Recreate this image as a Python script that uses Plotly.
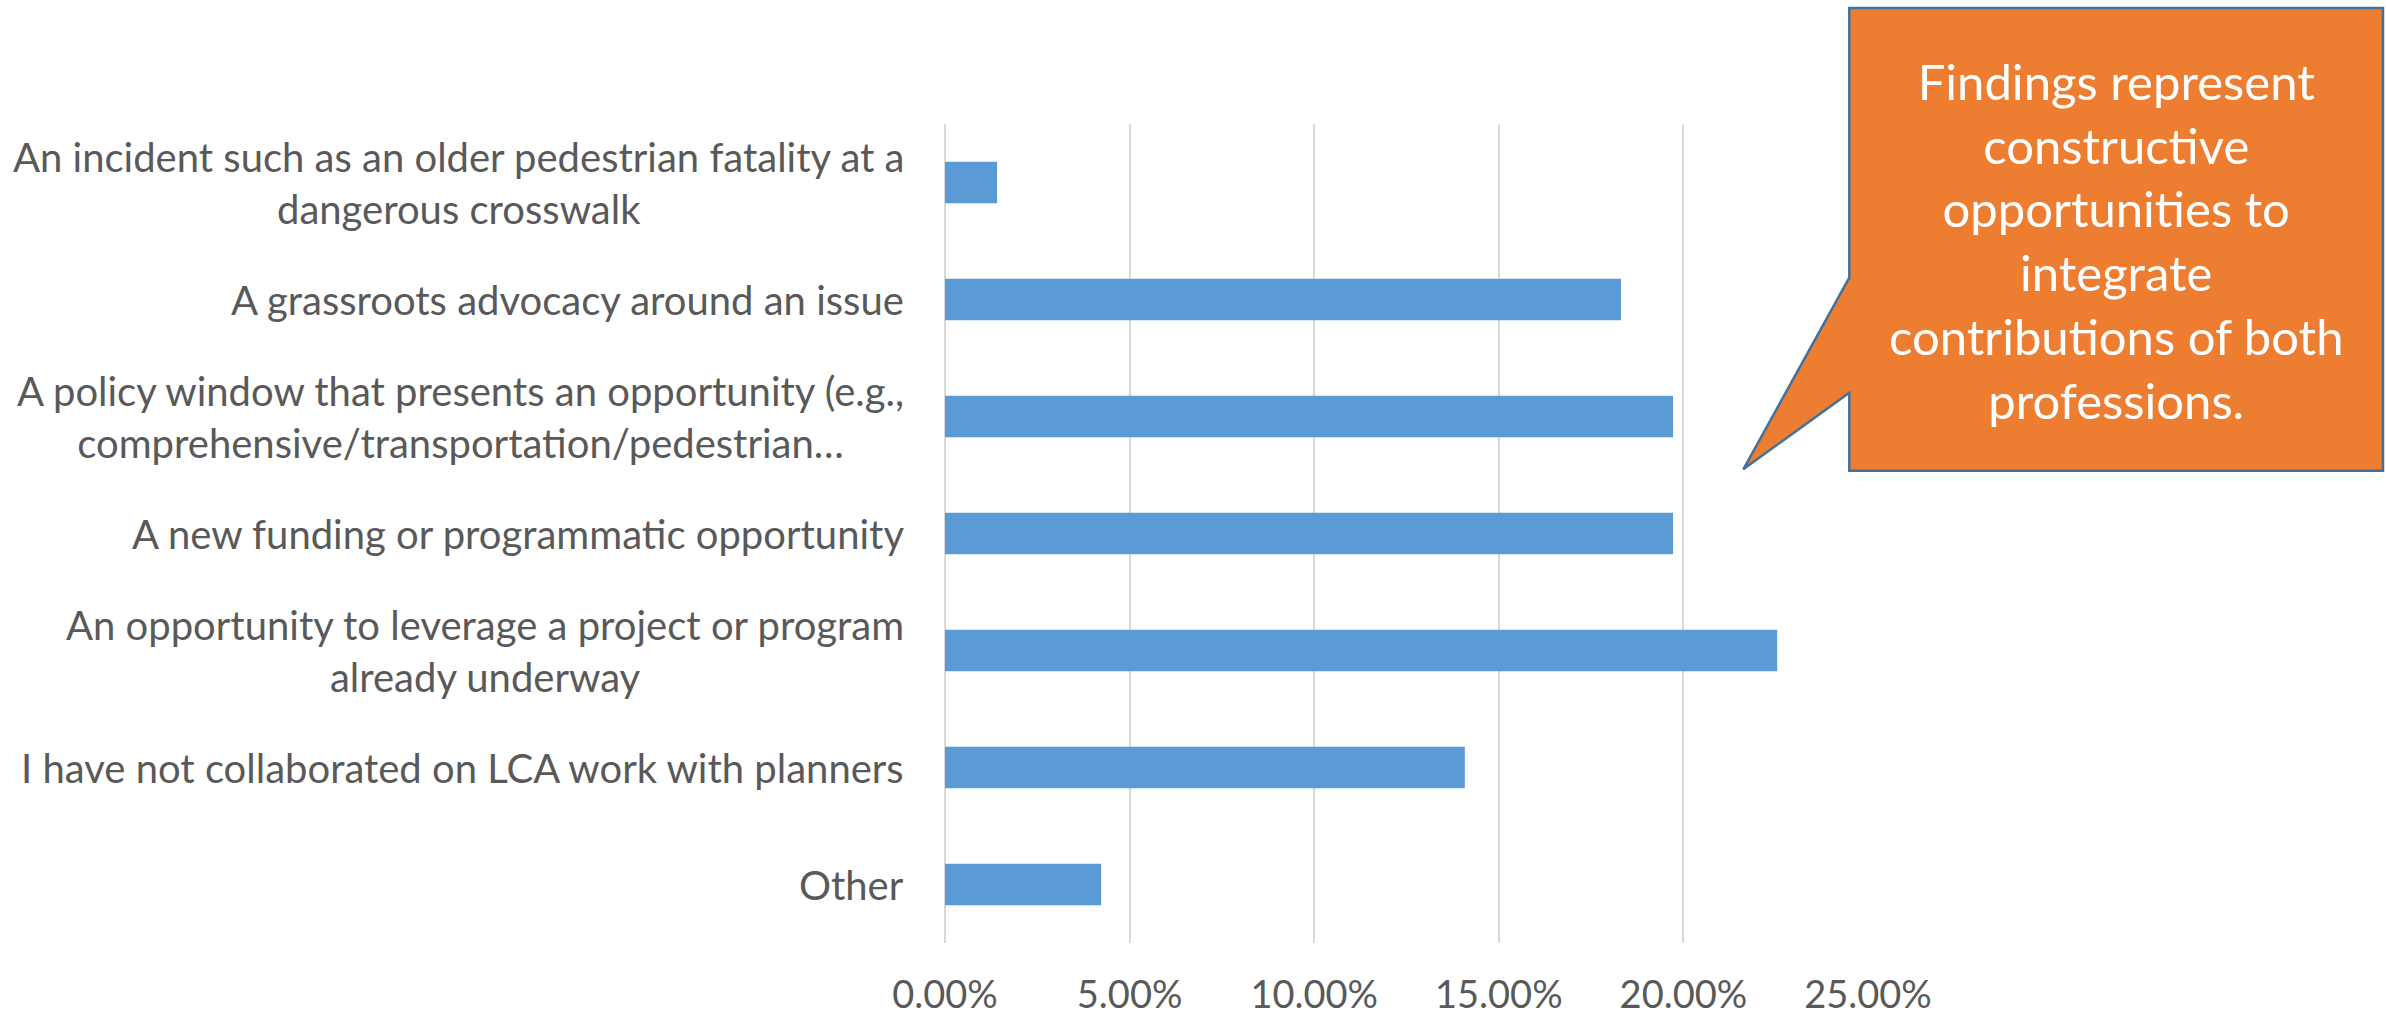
import plotly.graph_objects as go

# ---- data ----
categories = [
    "An incident such as an older pedestrian fatality at a<br>dangerous crosswalk",
    "A grassroots advocacy around an issue",
    "A policy window that presents an opportunity (e.g.,<br>comprehensive/transportation/pedestrian…",
    "A new funding or programmatic opportunity",
    "An opportunity to leverage a project or program<br>already underway",
    "I have not collaborated on LCA work with planners",
    "Other",
]
values = [0.0141, 0.1831, 0.1972, 0.1972, 0.2254, 0.1408, 0.0423]
x_tickvals = [0, 0.05, 0.10, 0.15, 0.20, 0.25]
x_ticktext = ["0.00%", "5.00%", "10.00%", "15.00%", "20.00%", "25.00%"]
callout_text = ("Findings represent<br>constructive<br>opportunities to<br>integrate<br>"
                "contributions of both<br>professions.")

W, H = 2386, 1016
ML, MR, MT, MB = 945, 518, 124, 73
PW, PH = W - ML - MR, H - MT - MB

def px(x):
    return (x - ML) / PW

def py(y):
    return (H - MB - y) / PH

FONT = "Lato"
GREY = "#595959"

fig = go.Figure()
fig.add_trace(go.Bar(
    x=values, y=categories, orientation="h",
    marker=dict(color="#5B9BD5", line=dict(width=0)),
    hoverinfo="x+y",
))

annotations = []
for c in categories:
    annotations.append(dict(
        xref="paper", yref="y", x=0, y=c, xshift=-39,
        xanchor="right", yanchor="middle", align="center",
        text=c, showarrow=False,
        font=dict(family=FONT, size=40, color=GREY),
    ))

# callout box with pointer
L, T, R, B = 1849.3, 8, 2383, 470.7
path = (f"M {px(L)},{py(T)} L {px(R)},{py(T)} L {px(R)},{py(B)} L {px(L)},{py(B)} "
        f"L {px(L)},{py(392.7)} L {px(1743.3)},{py(469.3)} L {px(L)},{py(277.7)} Z")
shapes = [dict(type="path", xref="paper", yref="paper", path=path,
               fillcolor="#ED7D31", line=dict(color="#41719C", width=2.5), layer="above")]

annotations.append(dict(
    xref="paper", yref="paper", x=px((L + R) / 2), y=py(240),
    xanchor="center", yanchor="middle", align="center",
    text=callout_text, showarrow=False,
    font=dict(family=FONT, size=49, color="white"),
))

fig.update_layout(
    width=W, height=H,
    margin=dict(l=ML, r=MR, t=MT, b=MB, pad=0, autoexpand=False),
    paper_bgcolor="white", plot_bgcolor="white",
    bargap=0.645,
    showlegend=False,
    shapes=shapes,
    annotations=annotations,
    xaxis=dict(
        range=[0, 0.25], tickvals=x_tickvals, ticktext=x_ticktext,
        showgrid=True, gridcolor="#D9D9D9", gridwidth=2,
        zeroline=True, zerolinecolor="#D9D9D9", zerolinewidth=2,
        showline=False, ticks="", ticklabelstandoff=26,
        tickfont=dict(family=FONT, size=38, color=GREY),
        automargin=False, fixedrange=True,
    ),
    yaxis=dict(
        categoryorder="array", categoryarray=categories,
        autorange="reversed", showticklabels=False,
        showgrid=False, zeroline=False, showline=False, ticks="",
        automargin=False, fixedrange=True,
    ),
)

fig.write_html("out.html", config={"displayModeBar": False})
